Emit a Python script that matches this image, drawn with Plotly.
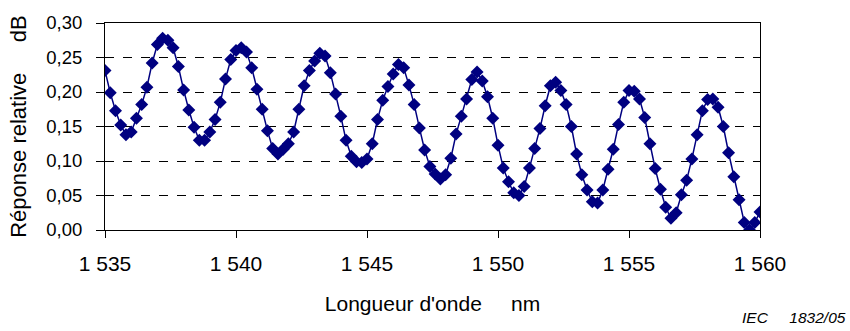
import plotly.graph_objects as go

wavelength_nm = [
    1535.0, 1535.2, 1535.4, 1535.6, 1535.8, 1536.0, 1536.2, 1536.4, 1536.6, 1536.8,
    1537.0, 1537.2, 1537.4, 1537.6, 1537.8, 1538.0, 1538.2, 1538.4, 1538.6, 1538.8,
    1539.0, 1539.2, 1539.4, 1539.6, 1539.8, 1540.0, 1540.2, 1540.4, 1540.6, 1540.8,
    1541.0, 1541.2, 1541.4, 1541.6, 1541.8, 1542.0, 1542.2, 1542.4, 1542.6, 1542.8,
    1543.0, 1543.2, 1543.4, 1543.6, 1543.8, 1544.0, 1544.2, 1544.4, 1544.6, 1544.8,
    1545.0, 1545.2, 1545.4, 1545.6, 1545.8, 1546.0, 1546.2, 1546.4, 1546.6, 1546.8,
    1547.0, 1547.2, 1547.4, 1547.6, 1547.8, 1548.0, 1548.2, 1548.4, 1548.6, 1548.8,
    1549.0, 1549.2, 1549.4, 1549.6, 1549.8, 1550.0, 1550.2, 1550.4, 1550.6, 1550.8,
    1551.0, 1551.2, 1551.4, 1551.6, 1551.8, 1552.0, 1552.2, 1552.4, 1552.6, 1552.8,
    1553.0, 1553.2, 1553.4, 1553.6, 1553.8, 1554.0, 1554.2, 1554.4, 1554.6, 1554.8,
    1555.0, 1555.2, 1555.4, 1555.6, 1555.8, 1556.0, 1556.2, 1556.4, 1556.6, 1556.8,
    1557.0, 1557.2, 1557.4, 1557.6, 1557.8, 1558.0, 1558.2, 1558.4, 1558.6, 1558.8,
    1559.0, 1559.2, 1559.4, 1559.6, 1559.8, 1560.0,
]

relative_response_db = [
    0.231, 0.199, 0.173, 0.152, 0.138, 0.142, 0.162, 0.182, 0.207, 0.242,
    0.269, 0.278, 0.275, 0.264, 0.237, 0.203, 0.174, 0.149, 0.130, 0.130,
    0.142, 0.160, 0.185, 0.219, 0.247, 0.260, 0.264, 0.258, 0.235, 0.204,
    0.175, 0.144, 0.118, 0.110, 0.117, 0.125, 0.142, 0.175, 0.209, 0.231,
    0.245, 0.256, 0.252, 0.228, 0.197, 0.165, 0.130, 0.107, 0.099, 0.098,
    0.103, 0.125, 0.160, 0.188, 0.208, 0.226, 0.240, 0.235, 0.210, 0.182,
    0.148, 0.116, 0.092, 0.081, 0.074, 0.080, 0.104, 0.139, 0.165, 0.190,
    0.218, 0.229, 0.216, 0.193, 0.162, 0.123, 0.090, 0.070, 0.054, 0.050,
    0.063, 0.090, 0.118, 0.147, 0.180, 0.209, 0.214, 0.202, 0.182, 0.150,
    0.110, 0.080, 0.058, 0.041, 0.039, 0.058, 0.088, 0.117, 0.153, 0.185,
    0.202, 0.201, 0.190, 0.163, 0.125, 0.089, 0.059, 0.033, 0.017, 0.025,
    0.051, 0.072, 0.103, 0.138, 0.173, 0.189, 0.190, 0.178, 0.150, 0.112,
    0.077, 0.044, 0.011, 0.000, 0.011, 0.026,
]

x_tick_values = [1535, 1540, 1545, 1550, 1555, 1560]
x_tick_labels = ["1 535", "1 540", "1 545", "1 550", "1 555", "1 560"]
y_tick_values = [0.00, 0.05, 0.10, 0.15, 0.20, 0.25, 0.30]
y_tick_labels = ["0,00", "0,05", "0,10", "0,15", "0,20", "0,25", "0,30"]

FONT = "Liberation Sans, Arial, sans-serif"
NAVY = "#000080"
SP = "\u00a0"

fig = go.Figure()
fig.add_trace(go.Scatter(
    x=wavelength_nm, y=relative_response_db,
    mode="lines+markers",
    line=dict(color=NAVY, width=1.5),
    marker=dict(symbol="diamond", size=10, color=NAVY),
    showlegend=False,
))

fig.update_layout(
    width=850, height=331,
    margin=dict(l=105, r=90, t=17, b=101),
    paper_bgcolor="white", plot_bgcolor="white",
    font=dict(family=FONT, size=16, color="black"),
    xaxis=dict(
        range=[1535, 1560],
        tickvals=x_tick_values, ticktext=x_tick_labels,
        ticks="outside", ticklen=7, tickcolor="black",
        showline=True, linecolor="black", linewidth=1, mirror=True,
        showgrid=False, zeroline=False,
        ticklabelstandoff=8,
        tickfont=dict(size=21),
        title=dict(text="Longueur d'onde" + SP * 5 + "nm", font=dict(size=21), standoff=22),
    ),
    yaxis=dict(
        range=[0, 0.30],
        tickvals=y_tick_values, ticktext=y_tick_labels,
        ticks="outside", ticklen=8, tickcolor="black",
        showline=True, linecolor="black", linewidth=1, mirror=True,
        showgrid=True, gridcolor="black", griddash="dash", gridwidth=1,
        zeroline=False,
        ticklabelstandoff=10,
        tickfont=dict(size=18.5),
        title=dict(text="Réponse relative" + SP * 5 + "dB", font=dict(size=22), standoff=13),
    ),
    annotations=[dict(
        text="IEC" + SP * 5 + "1832/05",
        xref="paper", yref="paper",
        x=(848 - 105) / 655, y=(230.3 - 321) / 213.6,
        xanchor="right", yanchor="middle",
        showarrow=False,
        font=dict(family=FONT, size=15.5, style="italic"),
    )],
)

fig.write_html("out.html")
